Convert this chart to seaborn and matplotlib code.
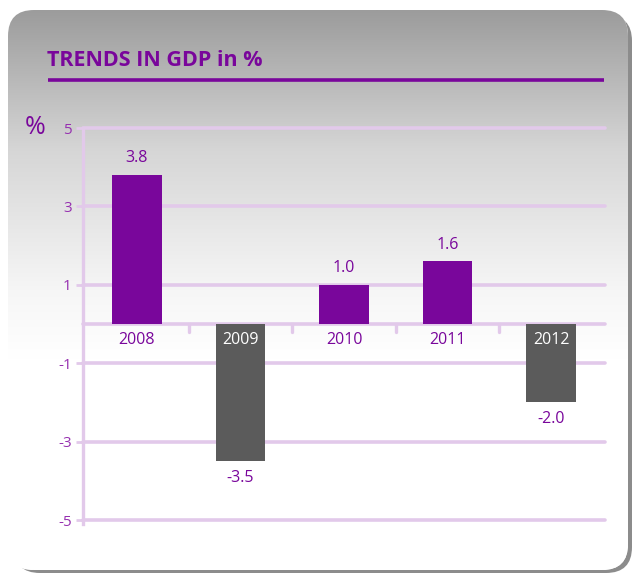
import numpy as np
import pandas as pd
import matplotlib
matplotlib.use("Agg")
import matplotlib.pyplot as plt
from matplotlib.patches import FancyBboxPatch
from matplotlib.colors import LinearSegmentedColormap
import seaborn as sns

# GDP growth by year
years = ["2008", "2009", "2010", "2011", "2012"]
growth = [3.8, -3.5, 1.0, 1.6, -2.0]
y_ticks = [5, 3, 1, -1, -3, -5]

PURPLE = "#79069b"
GRAY = "#5b5b5b"
TEXT = "#9630b0"
GRID = "#e2c9ea"

sns.set_theme(style="white")
plt.rcParams["font.family"] = ["Open Sans", "DejaVu Sans"]

W, H = 636, 575
fig = plt.figure(figsize=(W / 100, H / 100), dpi=100)
fig.patch.set_facecolor("white")

# background panel with drop shadow and vertical gradient
bg = fig.add_axes([0, 0, 1, 1], zorder=-10)
bg.axis("off")
shadow = FancyBboxPatch((14, 15), 618, 558, boxstyle="round,pad=0,rounding_size=26",
                        fc="#8c8c8c", ec="none", zorder=1)
bg.add_patch(shadow)
panel = FancyBboxPatch((8, 10), 620, 560, boxstyle="round,pad=0,rounding_size=26",
                       fc="white", ec="none", zorder=2)
bg.add_patch(panel)
grad_cmap = LinearSegmentedColormap.from_list(
    "panel", [(0.0, "#9c9c9c"), (0.25, "#d6d6d6"), (0.5, "#f6f6f6"), (0.62, "#ffffff"), (1.0, "#ffffff")])
grad = np.linspace(0, 1, 256).reshape(-1, 1)
img = bg.imshow(grad, cmap=grad_cmap, aspect="auto", extent=(8, 628, 570, 10),
                interpolation="bilinear", zorder=3)
img.set_clip_path(panel)
bg.set_xlim(0, W)
bg.set_ylim(H, 0)

# title and rule
fig.text(47 / W, 1 - 60 / H, "TRENDS IN GDP in %", color=PURPLE, fontsize=15.5,
         fontweight="bold", va="center", ha="left")
bg.plot([48, 604], [80, 80], color=PURPLE, lw=2.6, solid_capstyle="butt", zorder=4)
fig.text(25 / W, 1 - 128 / H, "%", color=PURPLE, fontsize=18, va="center", ha="left")

# bar chart
ax = fig.add_axes([83 / W, 1 - 520 / H, 522 / W, 392 / H])
ax.patch.set_alpha(0)
df = pd.DataFrame({"year": years, "growth": growth})
colors = [PURPLE if v >= 0 else GRAY for v in growth]
sns.barplot(data=df, x="year", y="growth", hue="year", palette=colors, legend=False,
            width=0.48, saturation=1, linewidth=0, edgecolor="none", ax=ax, zorder=3)
ax.set_xlim(-0.52, 4.52)
ax.set_ylim(-5, 5)

for t in y_ticks:
    ax.axhline(t, color=GRID, lw=2.6, zorder=1, clip_on=False)
ax.axhline(0, color=GRID, lw=2.6, zorder=2, clip_on=False)
for b in np.arange(0.5, 4.5, 1.0):
    ax.plot([b, b], [0, -0.2], color=GRID, lw=2.4, zorder=2, clip_on=False)

ax.set_yticks(y_ticks)
ax.set_yticklabels([str(t) for t in y_ticks])
ax.tick_params(axis="y", colors=GRID, labelcolor=TEXT, labelsize=11, length=5,
               width=2, direction="out", pad=3, left=True)
ax.set_xticks([])
ax.set_xlabel("")
ax.set_ylabel("")
for s in ["top", "right", "bottom"]:
    ax.spines[s].set_visible(False)
ax.spines["left"].set_color(GRID)
ax.spines["left"].set_linewidth(2.4)
ax.spines["left"].set_bounds(-5.1, 5)

for i, (yr, v) in enumerate(zip(years, growth)):
    if v >= 0:
        ax.text(i, v + 0.22, f"{v:.1f}", ha="center", va="bottom", color=PURPLE, fontsize=11.5)
        ax.text(i, -0.42, yr, ha="center", va="center", color=PURPLE, fontsize=11.5)
    else:
        ax.text(i, v - 0.22, f"{v:.1f}", ha="center", va="top", color=PURPLE, fontsize=11.5)
        ax.text(i, -0.42, yr, ha="center", va="center", color="white", fontsize=11.5, zorder=5)

fig.savefig("out.png", dpi=100, facecolor="white")
